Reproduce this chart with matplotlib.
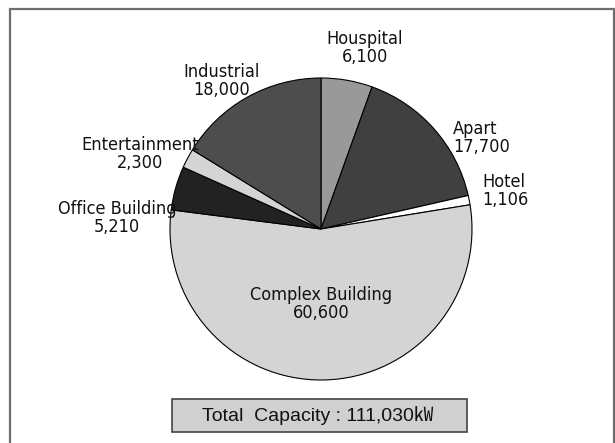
import matplotlib
matplotlib.use('Agg')
import matplotlib.pyplot as plt
from matplotlib.patches import Rectangle

# data
labels = ['Houspital', 'Apart', 'Hotel', 'Complex Building',
          'Office Building', 'Entertainment', 'Industrial']
values = [6100, 17700, 1106, 60600, 5210, 2300, 18000]
value_text = ['6,100', '17,700', '1,106', '60,600', '5,210', '2,300', '18,000']
colors = ['#999999', '#404040', '#ffffff', '#d4d4d4', '#222222', '#d4d4d4', '#4d4d4d']
total_text = 'Total  Capacity : 111,030\u33be'

fig = plt.figure(figsize=(6.15, 4.43), dpi=100)

# outer frame
fig.patches.append(Rectangle((10 / 615, -0.05), 604 / 615, (443 - 9) / 443 + 0.05,
                             transform=fig.transFigure, fill=False,
                             edgecolor='#6e6e6e', linewidth=1.6))

ax = fig.add_axes([170 / 615, 63 / 443, 302 / 615, 302 / 443])
ax.pie(values, colors=colors, startangle=90, counterclock=False,
       wedgeprops=dict(edgecolor='black', linewidth=0.8))
ax.set_xlim(-1, 1)
ax.set_ylim(-1, 1)
ax.set_aspect('equal')
ax.axis('off')

# label positions (in pie radii) and alignment
spots = [(0.29, 1.20, 'center'), (0.874, 0.60, 'left'), (1.066, 0.25, 'left'),
         (0.0, -0.50, 'center'), (-1.35, 0.076, 'center'),
         (-1.20, 0.50, 'center'), (-0.66, 0.98, 'center')]
for lab, val, (x, y, ha) in zip(labels, value_text, spots):
    ax.text(x, y, lab + '\n' + val, ha=ha, va='center', fontsize=13,
            family='DejaVu Sans', fontstretch='condensed', color='#111111',
            linespacing=1.0)

# total capacity box
fig.patches.append(Rectangle((172 / 615, (443 - 432) / 443), 295 / 615, 33 / 443,
                             transform=fig.transFigure, facecolor='#d0d0d0',
                             edgecolor='#444444', linewidth=1.2))
fig.text(318 / 615, (443 - 415.5) / 443, total_text, ha='center', va='center',
         fontsize=14, family=['Liberation Sans', 'Noto Sans CJK KR'], color='#111111')

fig.savefig('out.png', dpi=100)
